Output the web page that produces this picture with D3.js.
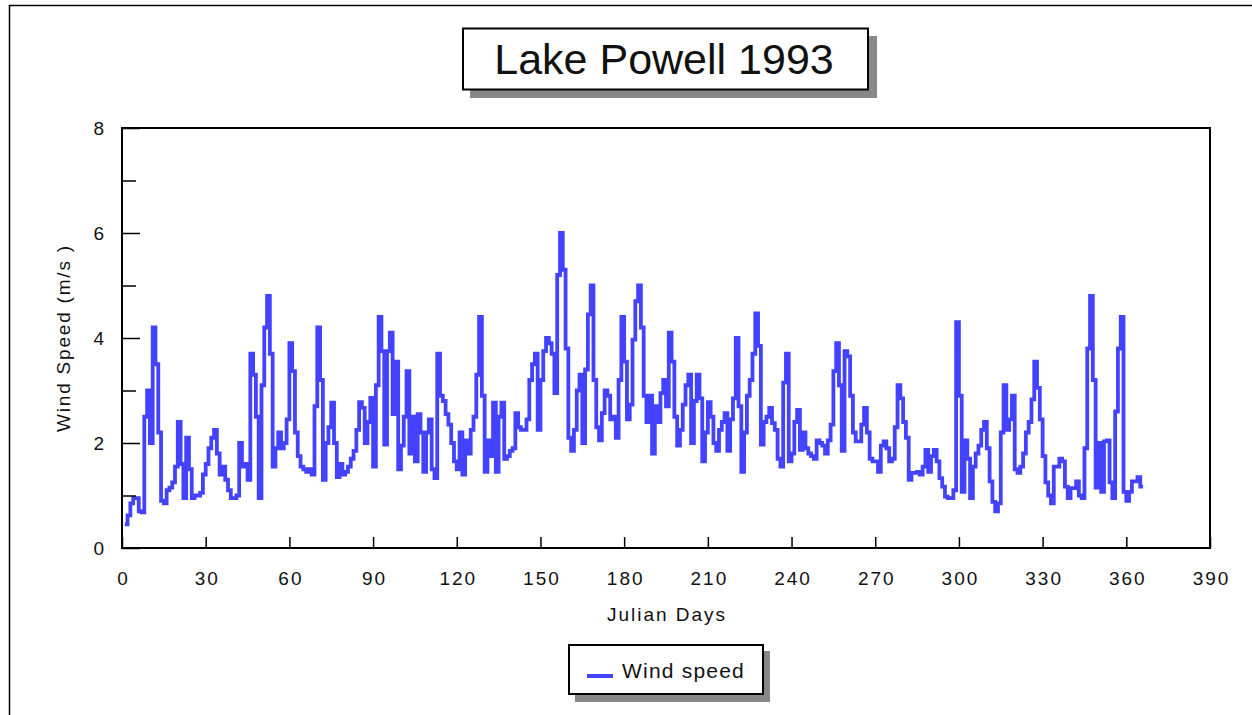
<!DOCTYPE html>
<html>
<head>
<meta charset="utf-8">
<script src="https://cdn.jsdelivr.net/npm/d3@7"></script>
<style>
body { margin: 0; background: #fff; }
svg text { font-family: "Liberation Sans", Arial, sans-serif; fill: #111; }
</style>
</head>
<body>
<svg id="chart" width="1252" height="715"></svg>
<script>
// Lake Powell 1993 - daily wind speed (m/s)
const chartTitle = "Lake Powell 1993";
const seriesName = "Wind speed";
const firstDay = 1;
const windSpeed = [
  // days 1-50
  0.45, 0.62, 0.85, 0.95, 0.95, 0.7, 0.68, 2.5, 3.0, 2.0,
  4.2, 3.5, 2.2, 0.9, 0.85, 1.1, 1.15, 1.25, 1.55, 2.4,
  1.6, 0.95, 2.1, 1.5, 0.95, 1.0, 1.0, 1.05, 1.4, 1.6,
  1.9, 2.1, 2.25, 1.8, 1.4, 1.55, 1.3, 1.1, 0.95, 0.95,
  1.0, 2.0, 1.55, 1.6, 1.3, 3.7, 3.3, 2.5, 0.95, 3.1,
  // days 51-100
  4.2, 4.8, 3.7, 1.55, 1.9, 2.2, 1.9, 2.0, 2.45, 3.9,
  3.37, 2.2, 1.75, 1.55, 1.5, 1.45, 1.5, 1.4, 2.7, 4.2,
  3.2, 1.3, 2.0, 2.3, 2.77, 2.0, 1.35, 1.6, 1.4, 1.45,
  1.55, 1.7, 1.85, 2.25, 2.78, 2.67, 2.0, 2.4, 2.86, 1.55,
  3.1, 4.4, 3.75, 1.97, 3.75, 4.1, 2.55, 3.55, 1.5, 1.95,
  // days 101-150
  2.5, 3.37, 1.8, 2.5, 1.65, 2.55, 2.2, 1.45, 2.2, 2.45,
  1.5, 1.33, 3.7, 2.9, 2.8, 2.55, 2.35, 2.0, 1.65, 1.5,
  2.2, 1.4, 2.05, 1.8, 2.25, 2.5, 3.3, 4.4, 2.9, 1.45,
  2.05, 1.75, 2.77, 1.45, 2.5, 2.77, 1.7, 1.75, 1.85, 1.9,
  2.57, 2.3, 2.25, 2.25, 2.45, 3.2, 3.5, 3.7, 2.25, 3.2,
  // days 151-200
  3.75, 4.0, 3.9, 3.7, 2.95, 5.2, 6.0, 5.3, 3.8, 2.1,
  1.85, 2.25, 3.0, 3.3, 2.0, 3.4, 4.45, 5.0, 3.2, 2.3,
  2.05, 2.57, 3.0, 2.9, 2.45, 2.5, 2.1, 3.2, 4.4, 3.55,
  2.45, 2.73, 3.97, 4.7, 5.0, 4.2, 2.9, 2.4, 2.9, 1.8,
  2.7, 2.4, 2.95, 3.2, 2.7, 4.1, 3.55, 2.5, 1.95, 2.25,
  // days 201-250
  2.73, 3.1, 3.3, 2.0, 2.8, 3.3, 2.85, 1.65, 2.2, 2.78,
  2.5, 2.0, 1.85, 2.25, 2.4, 2.57, 1.85, 2.45, 2.85, 4.0,
  2.7, 1.45, 2.2, 2.9, 3.2, 3.7, 4.47, 3.85, 1.97, 2.4,
  2.5, 2.67, 2.38, 2.25, 1.7, 1.55, 3.15, 3.7, 1.65, 1.8,
  2.4, 2.63, 1.87, 2.2, 1.9, 1.8, 1.75, 1.7, 2.05, 2.0,
  // days 251-300
  1.95, 1.8, 2.05, 2.35, 3.37, 3.9, 3.1, 1.85, 3.75, 3.65,
  2.9, 2.2, 2.03, 2.03, 2.35, 2.67, 2.2, 1.7, 1.65, 1.65,
  1.45, 1.95, 2.03, 1.9, 1.65, 1.7, 2.3, 3.1, 2.85, 2.4,
  2.1, 1.3, 1.43, 1.43, 1.45, 1.4, 1.55, 1.87, 1.45, 1.75,
  1.87, 1.65, 1.33, 1.17, 0.98, 0.95, 0.95, 1.1, 4.3, 2.9,
  // days 301-350
  1.07, 2.05, 1.7, 0.95, 1.55, 1.8, 1.95, 2.25, 2.4, 1.9,
  1.27, 0.88, 0.7, 0.85, 2.2, 3.1, 2.25, 2.45, 2.9, 1.5,
  1.43, 1.55, 1.8, 2.2, 2.4, 2.83, 3.55, 3.05, 2.45, 1.75,
  1.25, 1.0, 0.85, 1.55, 1.55, 1.7, 1.65, 1.17, 0.95, 1.14,
  1.14, 1.27, 1.0, 0.95, 1.9, 3.8, 4.8, 3.2, 1.15, 2.0,
  // days 351-365
  1.07, 2.03, 2.05, 1.25, 0.95, 2.6, 3.8, 4.4, 1.07, 0.9,
  1.07, 1.27, 1.27, 1.35, 1.17
];
const xTicks = [0, 30, 60, 90, 120, 150, 180, 210, 240, 270, 300, 330, 360, 390];
const yTicks = [0, 2, 4, 6, 8];
const yMinorTicks = [1, 3, 5, 7];
const xLabel = "Julian Days";
const yLabel = "Wind Speed (m/s )";

const lineColor = "#4343ff";

var svg = d3.select("svg#chart");

// Plot area
var margin = {left: 122, top: 128, right: 1210, bottom: 548};

var x = d3.scaleLinear().domain([0, 390]).range([margin.left, margin.right]);
var y = d3.scaleLinear().domain([0, 8]).range([margin.bottom, margin.top]);

// outer frame (runs off the right and bottom of the picture)
svg.append("rect")
    .attr("x", 9.5).attr("y", 5.5)
    .attr("width", 1300).attr("height", 800)
    .attr("fill", "none").attr("stroke", "#000").attr("stroke-width", 1.5);

// title box with shadow
svg.append("rect")
    .attr("x", 470).attr("y", 36).attr("width", 407).attr("height", 62)
    .attr("fill", "#888");
svg.append("rect")
    .attr("x", 463).attr("y", 28.5).attr("width", 405).attr("height", 61)
    .attr("fill", "#fff").attr("stroke", "#000").attr("stroke-width", 2);
svg.append("text")
    .attr("x", 664).attr("y", 74)
    .attr("text-anchor", "middle")
    .style("font-size", "43px")
    .text(chartTitle);

// data line
var points = windSpeed.map((v, i) => [firstDay + i, v]);
// the last day keeps its value up to the end of the day
points.push([firstDay + windSpeed.length, windSpeed[windSpeed.length - 1]]);

var line = d3.line()
    .x(d => x(d[0]))
    .y(d => y(d[1]))
    .curve(d3.curveStepAfter);

svg.append("path")
    .datum(points)
    .attr("d", line)
    .attr("fill", "none")
    .attr("stroke", lineColor)
    .attr("stroke-width", 3.8)
    .attr("stroke-linejoin", "miter");

// axes (ticks point inward)
var xAxis = svg.append("g")
    .attr("transform", `translate(0,${margin.bottom})`)
    .call(d3.axisBottom(x).tickValues(xTicks).tickSize(-11).tickPadding(24).tickFormat(d3.format("d")));

var yAxis = svg.append("g")
    .attr("transform", `translate(${margin.left},0)`)
    .call(d3.axisLeft(y).tickValues(yTicks).tickSize(-18).tickPadding(16).tickFormat(d3.format("d")));

var yMinor = svg.append("g")
    .attr("transform", `translate(${margin.left},0)`)
    .call(d3.axisLeft(y).tickValues(yMinorTicks).tickSize(-14).tickFormat(""));

[xAxis, yAxis, yMinor].forEach(g => {
    g.select(".domain").remove();
    g.selectAll(".tick line").attr("stroke", "#000").attr("stroke-width", 1.5);
    g.selectAll(".tick text")
        .attr("fill", "#111")
        .style("font-size", "19px")
        .style("font-family", "'Liberation Sans', Arial, sans-serif")
        .style("letter-spacing", "2px");
});
xAxis.selectAll(".tick text").attr("dx", "1px");

// plot frame
svg.append("rect")
    .attr("x", margin.left).attr("y", margin.top)
    .attr("width", margin.right - margin.left)
    .attr("height", margin.bottom - margin.top)
    .attr("fill", "none").attr("stroke", "#000").attr("stroke-width", 2);

// axis titles
svg.append("text")
    .attr("x", 667).attr("y", 621)
    .attr("text-anchor", "middle")
    .style("font-size", "19px")
    .style("letter-spacing", "2px")
    .text(xLabel);

svg.append("text")
    .attr("transform", "translate(70,338) rotate(-90)")
    .attr("text-anchor", "middle")
    .style("font-size", "19px")
    .style("letter-spacing", "1.8px")
    .text(yLabel);

// legend box with shadow
svg.append("rect")
    .attr("x", 575).attr("y", 651).attr("width", 195).attr("height", 51)
    .attr("fill", "#888");
svg.append("rect")
    .attr("x", 569).attr("y", 645).attr("width", 194).attr("height", 49)
    .attr("fill", "#fff").attr("stroke", "#000").attr("stroke-width", 2);
svg.append("line")
    .attr("x1", 587).attr("x2", 613).attr("y1", 676).attr("y2", 676)
    .attr("stroke", lineColor).attr("stroke-width", 4);
svg.append("text")
    .attr("x", 622).attr("y", 678)
    .style("font-size", "21px")
    .style("letter-spacing", "1.2px")
    .text(seriesName);
</script>
</body>
</html>
